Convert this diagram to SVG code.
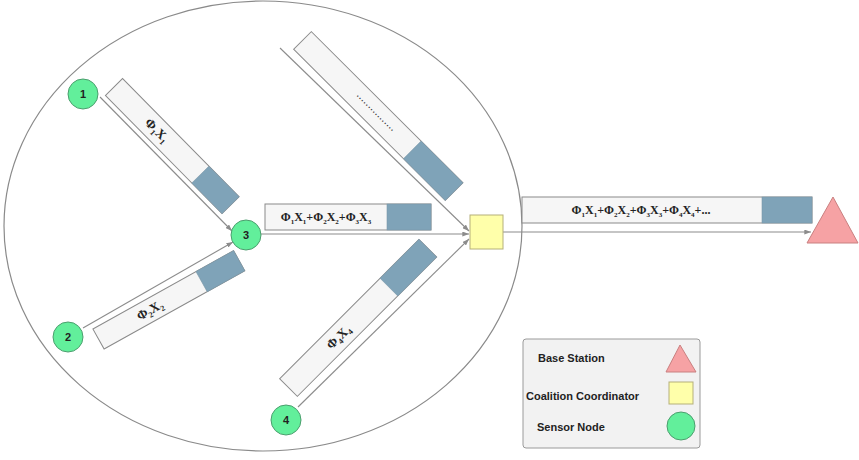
<svg xmlns="http://www.w3.org/2000/svg" width="859" height="460" viewBox="0 0 859 460">
<style>
.pk{fill:#f6f6f6;stroke:#8a8a8a;stroke-width:1}
.bl{fill:#7fa3b8;stroke:#7a97a8;stroke-width:0.6}
.ln{stroke:#8c8c8c;stroke-width:1.1;fill:none}
.nd{fill:#62ef9b;stroke:#4c9e6e;stroke-width:1}
.nl{font-family:"Liberation Sans",Arial,sans-serif;font-size:11px;font-weight:bold;fill:#222;text-anchor:middle}
.pt{font-family:"Liberation Serif","Times New Roman",serif;font-size:12px;font-weight:bold;fill:#222;text-anchor:middle}
.pr{font-family:"Liberation Serif","Times New Roman",serif;font-size:13px;font-weight:bold;fill:#222;text-anchor:middle}
.dt{font-family:"Liberation Sans",Arial,sans-serif;font-size:8px;font-weight:bold;fill:#333;text-anchor:middle;letter-spacing:1px}
.lg{font-family:"Liberation Sans",Arial,sans-serif;font-size:11px;font-weight:bold;fill:#222}
</style>
<defs>
<marker id="ah" viewBox="0 0 8 6" refX="8" refY="3" markerWidth="7" markerHeight="5" orient="auto" markerUnits="userSpaceOnUse">
<path d="M0,0 L8,3 L0,6 z" fill="#8c8c8c"/>
</marker>
</defs>
<rect width="859" height="460" fill="#ffffff"/>
<ellipse id="coalition" cx="263" cy="226" rx="259" ry="225" fill="none" stroke="#8a8a8a" stroke-width="1.2"/>

<g id="connectors">
<line class="ln" x1="100" y1="97" x2="232" y2="231" marker-end="url(#ah)"/>
<line class="ln" x1="83" y1="328" x2="233" y2="242" marker-end="url(#ah)"/>
<line class="ln" x1="261" y1="234" x2="469" y2="234" marker-end="url(#ah)"/>
<line class="ln" x1="280" y1="48" x2="469" y2="231" marker-end="url(#ah)"/>
<line class="ln" x1="298" y1="407" x2="469" y2="239" marker-end="url(#ah)"/>
<line class="ln" x1="503" y1="232" x2="811" y2="232" marker-end="url(#ah)"/>
</g>

<g id="packet1" transform="translate(114,87) rotate(45.4)">
<rect class="pk" x="0" y="-12" width="166" height="24"/>
<rect class="bl" x="123" y="-12" width="43" height="24"/>
<text class="pr" x="61" y="4">Φ<tspan font-size="8" dy="3">1</tspan><tspan dy="-3">X</tspan><tspan font-size="8" dy="3">1</tspan></text>
</g>

<g id="packet2" transform="translate(98.5,339) rotate(-29.1)">
<rect class="pk" x="0" y="-11.5" width="161" height="23"/>
<rect class="bl" x="118" y="-11.5" width="43" height="23"/>
<text class="pr" x="59" y="4">Φ<tspan font-size="8" dy="3">2</tspan><tspan dy="-3">X</tspan><tspan font-size="8" dy="3">2</tspan></text>
</g>

<g id="packet-top" transform="translate(302.5,40.5) rotate(44.9)">
<rect class="pk" x="0" y="-12.5" width="214" height="25"/>
<rect class="bl" x="155" y="-12.5" width="59" height="25"/>
<text class="dt" x="103" y="1">................</text>
</g>

<g id="packet4" transform="translate(288.5,387.5) rotate(-45)">
<rect class="pk" x="0" y="-12.5" width="197" height="25"/>
<rect class="bl" x="142" y="-12.5" width="55" height="25"/>
<text class="pr" x="71" y="4">Φ<tspan font-size="8" dy="3">4</tspan><tspan dy="-3">X</tspan><tspan font-size="8" dy="3">4</tspan></text>
</g>

<g id="packet3">
<rect class="pk" x="265" y="204" width="166" height="26"/>
<rect class="bl" x="387" y="204" width="44" height="26"/>
<text class="pt" x="326" y="221">Φ<tspan font-size="7" dy="3">1</tspan><tspan dy="-3">X</tspan><tspan font-size="7" dy="3">1</tspan><tspan dy="-3">+Φ</tspan><tspan font-size="7" dy="3">2</tspan><tspan dy="-3">X</tspan><tspan font-size="7" dy="3">2</tspan><tspan dy="-3">+Φ</tspan><tspan font-size="7" dy="3">3</tspan><tspan dy="-3">X</tspan><tspan font-size="7" dy="3">3</tspan></text>
</g>

<g id="packet-out">
<rect class="pk" x="522" y="197" width="290" height="26"/>
<rect class="bl" x="762" y="197" width="50" height="26"/>
<text class="pt" x="641" y="214">Φ<tspan font-size="7" dy="3">1</tspan><tspan dy="-3">X</tspan><tspan font-size="7" dy="3">1</tspan><tspan dy="-3">+Φ</tspan><tspan font-size="7" dy="3">2</tspan><tspan dy="-3">X</tspan><tspan font-size="7" dy="3">2</tspan><tspan dy="-3">+Φ</tspan><tspan font-size="7" dy="3">3</tspan><tspan dy="-3">X</tspan><tspan font-size="7" dy="3">3</tspan><tspan dy="-3">+Φ</tspan><tspan font-size="7" dy="3">4</tspan><tspan dy="-3">X</tspan><tspan font-size="7" dy="3">4</tspan><tspan dy="-3">+...</tspan></text>
</g>

<g id="node1"><circle class="nd" cx="83" cy="94" r="15"/><text class="nl" x="83" y="98">1</text></g>
<g id="node2"><circle class="nd" cx="68" cy="337" r="15"/><text class="nl" x="68" y="341">2</text></g>
<g id="node3"><circle class="nd" cx="246" cy="235" r="15"/><text class="nl" x="246" y="239">3</text></g>
<g id="node4"><circle class="nd" cx="286" cy="420" r="15"/><text class="nl" x="286" y="424">4</text></g>

<g id="coordinator"><rect x="470" y="215" width="33" height="34" fill="#ffffaa" stroke="#b5b07a" stroke-width="1"/></g>
<g id="base-station"><polygon points="833,197 807,243 858,243" fill="#f6a2a4" stroke="#c98080" stroke-width="1"/></g>

<g id="legend">
<rect x="523" y="339" width="177" height="109" rx="3" fill="#f2f2f2" stroke="#9a9a9a" stroke-width="1"/>
<text class="lg" x="538" y="362">Base Station</text>
<text class="lg" x="526" y="400">Coalition Coordinator</text>
<text class="lg" x="537" y="431">Sensor Node</text>
<polygon points="680,345 666,372 696,372" fill="#f6a2a4" stroke="#c98080" stroke-width="1"/>
<rect x="669" y="382" width="24" height="22" fill="#ffffaa" stroke="#b5b07a" stroke-width="1"/>
<circle cx="681" cy="426" r="14" fill="#62ef9b" stroke="#4c9e6e" stroke-width="1"/>
</g>
</svg>
